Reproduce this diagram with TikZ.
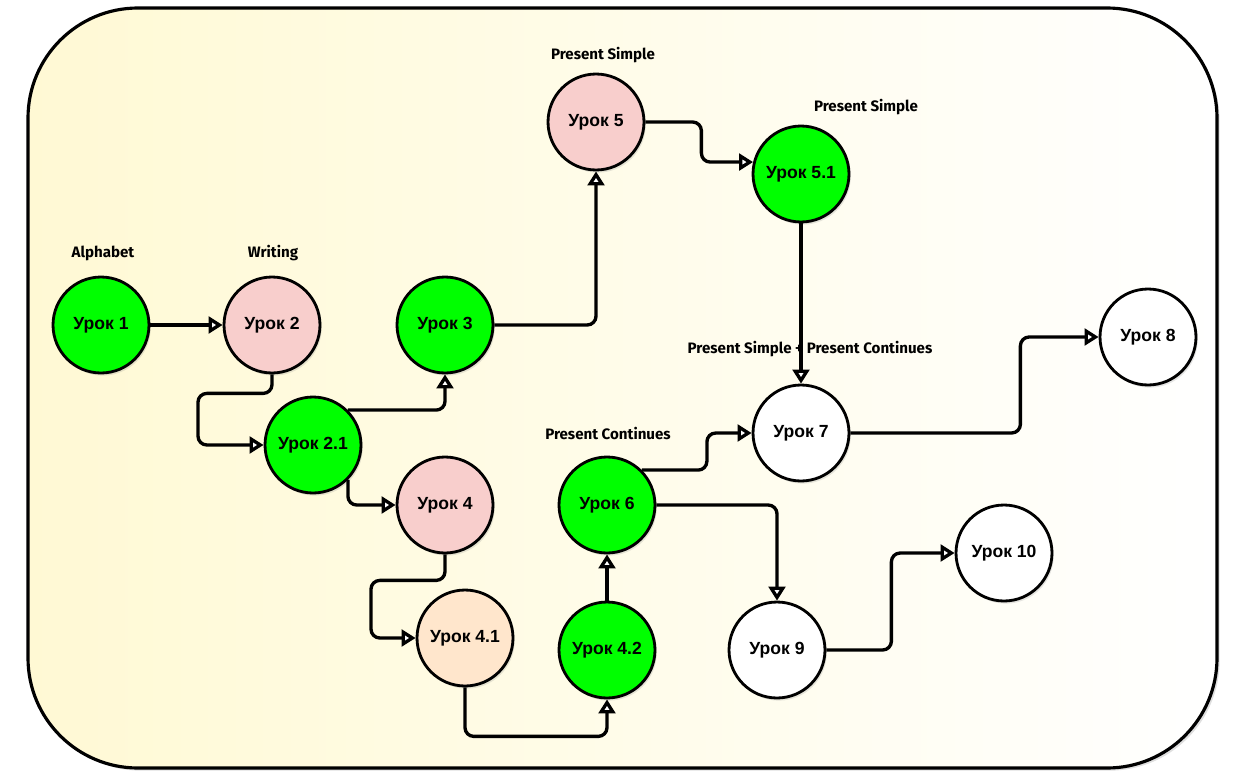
\documentclass[tikz,border=0pt]{standalone}
\usepackage{fontspec}
\setmainfont{Liberation Sans}
\newfontfamily\notefont{Fira Sans}
\usetikzlibrary{arrows.meta,shadows}
\definecolor{pinkfill}{HTML}{F8CECC}
\definecolor{peachfill}{HTML}{FFE6CC}
\definecolor{greenfill}{HTML}{00FF00}
\definecolor{paper}{HTML}{FFF9D4}
\tikzset{
    lesson/.style={circle, draw, line width=1.6pt, minimum size=1.92cm, inner sep=0pt,
        font=\bfseries\fontsize{10}{12}\selectfont,
        drop shadow={shadow xshift=1pt, shadow yshift=-1.5pt, opacity=0.2}},
    topic/.style={font=\notefont\bfseries\fontsize{8.6}{10}\selectfont},
    link/.style={line width=1.9pt, rounded corners=5pt, -{Triangle[fill=white, length=8pt, width=9.5pt]}}
}
\begin{document}
\begin{tikzpicture}[x=0.02cm, y=-0.02cm]
    \useasboundingbox (0,0) rectangle (1257,781);
    \draw[line width=1.8pt, rounded corners=2.2cm, left color=paper, right color=white,
        drop shadow={shadow xshift=1.5pt, shadow yshift=-1.5pt, opacity=0.25}]
        (28,8) rectangle (1217,768);

    \node[lesson, fill=greenfill] (1) at (101,325) {Урок 1};
    \node[lesson, fill=pinkfill] (2) at (272,325) {Урок 2};
    \node[lesson, fill=greenfill] (3) at (445,325) {Урок 3};
    \node[lesson, fill=greenfill] (21) at (313,445) {Урок 2.1};
    \node[lesson, fill=pinkfill] (4) at (445,505) {Урок 4};
    \node[lesson, fill=peachfill] (41) at (465,638) {Урок 4.1};
    \node[lesson, fill=greenfill] (42) at (607,650) {Урок 4.2};
    \node[lesson, fill=greenfill] (6) at (607,505) {Урок 6};
    \node[lesson, fill=pinkfill] (5) at (596,122) {Урок 5};
    \node[lesson, fill=greenfill] (51) at (801,174) {Урок 5.1};
    \node[lesson, fill=white] (7) at (801,433) {Урок 7};
    \node[lesson, fill=white] (8) at (1148,337) {Урок 8};
    \node[lesson, fill=white] (9) at (777,650) {Урок 9};
    \node[lesson, fill=white] (10) at (1004,553) {Урок 10};

    \node[topic] (alphabet) at (103,253) {Alphabet};
    \node[topic] (writing) at (273,253) {Writing};
    \node[topic] (simple) at (603,55) {Present Simple};
    \node[topic] (simple2) at (866,107) {Present Simple};
    \node[topic] (both) at (810,349) {Present Simple + Present Continues};
    \node[topic] (continues) at (608,433) {Present Continues};

    \draw[link] (1) -- (2);
    \draw[link] (2.south) -- ++(0,19) -- ++(-74,0) |- (21.west);
    \draw[link] (21.north east) -| (3.south);
    \draw[link] (21.south east) |- (4.west);
    \draw[link] (3.east) -| (5.south);
    \draw[link] (5.east) -- ++(56,0) |- (51.166);
    \draw[link] (51.south) -- (7.north);
    \draw[link] (4.south) -- ++(0,26) -- ++(-74,0) |- (41.west);
    \draw[link] (41.south) -- ++(0,49) -| (42.south);
    \draw[link] (42.north) -- (6.south);
    \draw[link] (6.north east) -- ++(65,0) |- (7.west);
    \draw[link] (6.east) -| (9.north);
    \draw[link] (7.east) -- ++(170,0) |- (8.west);
    \draw[link] (9.east) -- ++(65,0) |- (10.west);
\end{tikzpicture}
\end{document}
